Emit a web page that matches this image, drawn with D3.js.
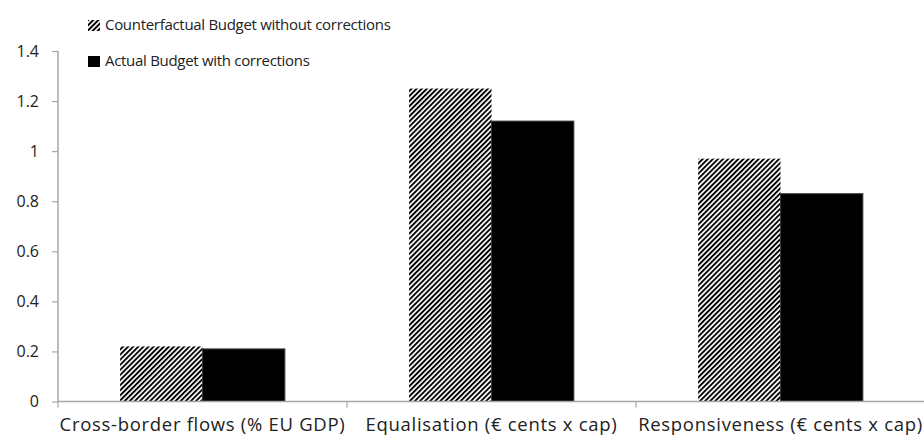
<!DOCTYPE html>
<html>
<head>
<meta charset="utf-8">
<script src="https://cdn.jsdelivr.net/npm/d3@7"></script>
<style>
  html, body { margin: 0; padding: 0; background: #fff; }
  svg { display: block; }
  text { font-family: "Open Sans", "Noto Sans", sans-serif; fill: #222; }
</style>
</head>
<body>
<svg id="chart" width="924" height="435"></svg>
<script>
const categories = ["Cross-border flows (% EU GDP)", "Equalisation (€ cents x cap)", "Responsiveness (€ cents x cap)"];
const seriesNames = ["Counterfactual Budget without corrections", "Actual Budget with corrections"];
const counterfactualValues = [0.22, 1.25, 0.97];
const actualValues = [0.21, 1.12, 0.83];
const yTicks = [0, 0.2, 0.4, 0.6, 0.8, 1, 1.2, 1.4];

(function () {
const svg = d3.select("#chart");
const mLeft = 58, mRight = 925, mTop = 51, mBottom = 401.5;

const defs = svg.append("defs");
const pat = defs.append("pattern")
  .attr("id", "hatch").attr("patternUnits", "userSpaceOnUse")
  .attr("width", 3.6).attr("height", 3.6)
  .attr("patternTransform", "rotate(45)");
pat.append("rect").attr("width", 3.6).attr("height", 3.6).attr("fill", "#fff");
pat.append("rect").attr("width", 1.9).attr("height", 3.6).attr("fill", "#000");

const y = d3.scaleLinear().domain([0, 1.4]).range([mBottom, mTop]);
const x0 = d3.scaleBand().domain(categories).range([mLeft, mRight]).paddingInner(0.43).paddingOuter(0.215);
const x1 = d3.scaleBand().domain(seriesNames).range([0, x0.bandwidth()]);
const fills = ["url(#hatch)", "#000"];
const data = categories.map((c, i) => ({ cat: c, vals: [counterfactualValues[i], actualValues[i]] }));

// bars
const g = svg.append("g");
data.forEach(d => {
  d.vals.forEach((v, j) => {
    g.append("rect")
      .attr("x", x0(d.cat) + x1(seriesNames[j]))
      .attr("y", y(v))
      .attr("width", x1.bandwidth())
      .attr("height", y(0) - y(v))
      .attr("fill", fills[j])
      .attr("stroke", j === 1 ? "#3a3a3a" : "none")
      .attr("stroke-width", 1);
  });
});

// y axis
const yAxis = d3.axisLeft(y).tickValues(yTicks).tickSize(6).tickPadding(13)
  .tickFormat(d => d3.format("")(+d.toFixed(1)));
const ya = svg.append("g").attr("transform", `translate(${mLeft},0)`).call(yAxis);
ya.select(".domain").attr("stroke", "#a6a6a6").attr("stroke-width", 1.5).attr("d", `M0,${mTop}V${mBottom}`);
ya.selectAll(".tick line").attr("stroke", "#a6a6a6").attr("stroke-width", 1.2);
ya.selectAll(".tick text").style("font-size", "16px").style("font-family", '"Open Sans", sans-serif').attr("fill", "#222");

// x axis
const xa = svg.append("g").attr("transform", `translate(0,${mBottom})`).call(d3.axisBottom(x0).tickSize(0).tickPadding(16));
xa.select(".domain").attr("stroke", "#a6a6a6").attr("stroke-width", 1.5).attr("d", `M${mLeft},0H${mRight}`);
xa.selectAll(".tick text").style("font-size", "18.5px").style("letter-spacing", "0.7px")
  .style("font-family", '"Open Sans", sans-serif').attr("fill", "#222");
const bounds = [mLeft].concat(categories.map(c => x0(c) + x0.bandwidth() + x0.step() * x0.paddingInner() / 2));
xa.selectAll(".sep").data(bounds).join("line").attr("class", "sep")
  .attr("x1", d => d).attr("x2", d => d).attr("y1", 0).attr("y2", 6)
  .attr("stroke", "#a6a6a6").attr("stroke-width", 1.2);

// legend
const leg = svg.append("g");
seriesNames.forEach((s, i) => {
  const ly = 25 + i * 36;
  leg.append("rect").attr("x", 88).attr("y", ly - 5).attr("width", 12).attr("height", 11).attr("fill", fills[i]);
  leg.append("text").attr("x", 105).attr("y", ly).attr("dy", "0.35em")
    .style("font-size", "15px").style("letter-spacing", "-0.3px").attr("fill", "#111").text(s);
});
})();
</script>
</body>
</html>
